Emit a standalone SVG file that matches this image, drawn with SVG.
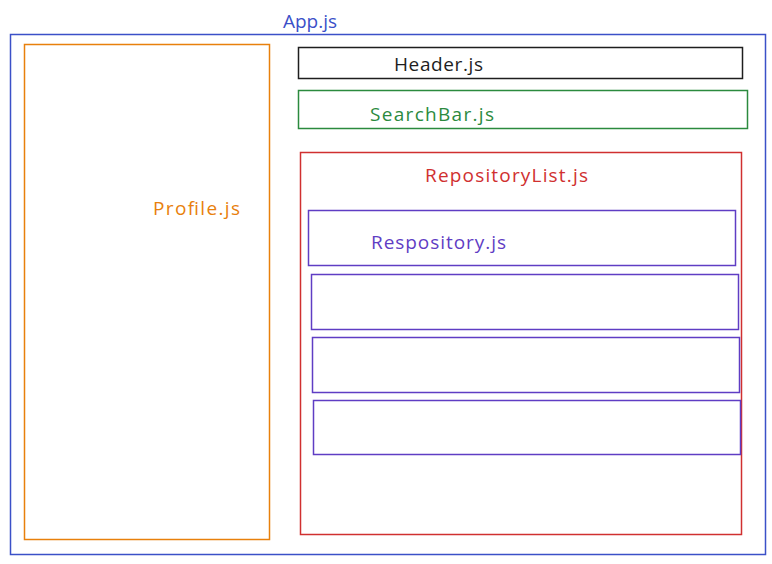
<svg xmlns="http://www.w3.org/2000/svg" width="772" height="564" viewBox="0 0 772 564">
<style>
rect{fill:none;stroke-width:1.5}
text{font-family:"Open Sans","Liberation Sans",sans-serif;font-size:19px;dominant-baseline:central}
.blue{stroke:#3b50c8}
.orange{stroke:#e8800c}
.black{stroke:#1e1e1e}
.green{stroke:#2b8a3e}
.red{stroke:#d03030}
.violet{stroke:#5f3dc4}
</style>
<rect width="772" height="564" fill="#ffffff" stroke="none"/>
<g id="app">
<rect class="blue" x="10.5" y="34.5" width="755" height="520"/>
<text x="283" y="21" fill="#3b50c8" textLength="54">App.js</text>
</g>
<g id="profile">
<rect class="orange" x="24.5" y="44.5" width="245" height="495"/>
<text x="153" y="208" fill="#e8800c" textLength="87">Profile.js</text>
</g>
<g id="header">
<rect class="black" x="298.5" y="47.5" width="444" height="31"/>
<text x="394" y="64" fill="#1e1e1e" textLength="89">Header.js</text>
</g>
<g id="searchbar">
<rect class="green" x="298.5" y="90.5" width="449" height="38"/>
<text x="370" y="114" fill="#2b8a3e" textLength="124">SearchBar.js</text>
</g>
<g id="repositorylist">
<rect class="red" x="300.5" y="152.5" width="441" height="382"/>
<text x="425" y="175" fill="#d03030" textLength="163">RepositoryList.js</text>
</g>
<g id="repository1">
<rect class="violet" x="308.5" y="210.5" width="427" height="55"/>
<text x="371" y="242" fill="#5f3dc4" textLength="135">Respository.js</text>
</g>
<g id="repository2">
<rect class="violet" x="311.5" y="274.5" width="427" height="55"/>
</g>
<g id="repository3">
<rect class="violet" x="312.5" y="337.5" width="427" height="55"/>
</g>
<g id="repository4">
<rect class="violet" x="313.5" y="400.5" width="427" height="54"/>
</g>
<g id="connectors"></g>
</svg>
